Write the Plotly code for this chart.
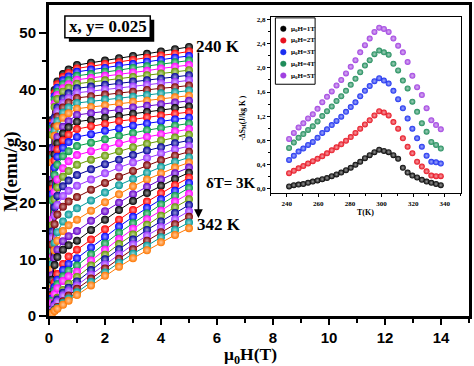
import plotly.graph_objects as go

# ---------------- data ----------------
temperatures = [240, 243, 246, 249, 252, 255, 258, 261, 264, 267, 270, 273,
                276, 279, 282, 285, 288, 291, 294, 297, 300, 303, 306, 309,
                312, 315, 318, 321, 324, 327, 330, 333, 336, 339, 342]
field_H = [0, 0.05, 0.1, 0.2, 0.3, 0.5, 0.7, 1.0, 1.5, 2.0, 2.5, 3.0, 3.5, 4.0, 4.5, 5.0]
M_curves = [
    [0, 16.8, 34.6, 39.9, 41.4, 42.7, 43.5, 44.3, 44.7, 45.1, 45.5, 45.9, 46.3, 46.7, 47.1, 47.5],
    [0, 16.6, 34.1, 39.3, 40.9, 42.2, 42.9, 43.7, 44.1, 44.5, 44.8, 45.2, 45.6, 46.0, 46.3, 46.7],
    [0, 16.4, 33.6, 38.8, 40.3, 41.6, 42.3, 43.1, 43.5, 43.8, 44.2, 44.5, 44.9, 45.2, 45.6, 45.9],
    [0, 16.1, 33.1, 38.2, 39.6, 40.9, 41.6, 42.4, 42.7, 43.1, 43.4, 43.8, 44.1, 44.4, 44.8, 45.1],
    [0, 15.8, 32.5, 37.5, 39.0, 40.2, 40.9, 41.7, 42.0, 42.4, 42.7, 43.0, 43.3, 43.7, 44.0, 44.3],
    [0, 15.6, 32.0, 36.9, 38.3, 39.6, 40.3, 41.0, 41.3, 41.6, 41.9, 42.2, 42.5, 42.8, 43.1, 43.4],
    [0, 15.5, 29.7, 35.0, 36.8, 38.4, 39.3, 40.2, 40.5, 40.8, 41.1, 41.4, 41.6, 41.9, 42.2, 42.5],
    [0, 15.2, 29.2, 34.3, 36.1, 37.6, 38.5, 39.4, 39.7, 40.0, 40.2, 40.5, 40.8, 41.1, 41.3, 41.6],
    [0, 14.8, 28.5, 33.5, 35.2, 36.8, 37.7, 38.5, 38.8, 39.1, 39.3, 39.6, 39.9, 40.2, 40.4, 40.7],
    [0, 14.5, 27.8, 32.7, 34.4, 35.9, 36.8, 37.6, 37.9, 38.2, 38.4, 38.7, 39.0, 39.3, 39.5, 39.8],
    [0, 14.1, 27.1, 31.8, 33.5, 35.0, 35.8, 36.6, 36.9, 37.2, 37.5, 37.8, 38.0, 38.3, 38.6, 38.9],
    [0, 13.5, 24.1, 29.5, 31.6, 33.4, 34.4, 35.5, 35.8, 36.1, 36.4, 36.8, 37.1, 37.4, 37.7, 38.0],
    [0, 13.0, 23.3, 28.5, 30.5, 32.2, 33.3, 34.3, 34.6, 35.0, 35.3, 35.7, 36.0, 36.3, 36.7, 37.0],
    [0, 12.5, 22.4, 27.4, 29.4, 31.0, 32.0, 33.0, 33.5, 33.9, 34.4, 34.7, 35.1, 35.4, 35.7, 36.0],
    [0, 12.0, 21.5, 26.2, 28.1, 29.7, 30.7, 31.6, 32.1, 32.7, 33.1, 33.6, 34.0, 34.4, 34.7, 35.0],
    [0, 11.4, 20.4, 24.9, 26.7, 28.2, 29.1, 30.0, 30.6, 31.2, 31.8, 32.3, 32.8, 33.2, 33.6, 34.0],
    [0, 10.2, 17.0, 21.9, 24.1, 26.1, 27.3, 28.4, 29.1, 29.8, 30.5, 31.1, 31.6, 32.1, 32.6, 33.0],
    [0, 9.6, 16.0, 20.6, 22.7, 24.6, 25.6, 26.7, 27.6, 28.3, 29.1, 29.8, 30.4, 31.0, 31.5, 32.0],
    [0, 9.0, 14.9, 19.2, 21.2, 22.9, 23.9, 24.9, 25.9, 26.8, 27.6, 28.4, 29.2, 29.8, 30.5, 31.0],
    [0, 8.3, 13.8, 17.7, 19.6, 21.2, 22.1, 23.0, 24.1, 25.2, 26.2, 27.1, 27.9, 28.7, 29.4, 30.0],
    [0, 7.6, 12.6, 16.2, 17.9, 19.3, 20.2, 21.0, 22.3, 23.5, 24.6, 25.6, 26.6, 27.5, 28.3, 29.0],
    [0, 5.3, 9.1, 12.9, 14.8, 16.7, 17.9, 19.0, 20.4, 21.8, 23.1, 24.2, 25.3, 26.3, 27.2, 28.0],
    [0, 4.8, 8.2, 11.6, 13.3, 15.0, 16.0, 17.0, 18.6, 20.1, 21.5, 22.9, 24.1, 25.2, 26.2, 27.1],
    [0, 4.2, 7.2, 10.2, 11.7, 13.2, 14.1, 15.0, 16.8, 18.5, 20.0, 21.5, 22.8, 24.1, 25.2, 26.2],
    [0, 3.7, 6.4, 9.0, 10.4, 11.7, 12.5, 13.3, 15.2, 17.0, 18.7, 20.3, 21.7, 23.0, 24.2, 25.3],
    [0, 1.9, 3.5, 5.9, 7.4, 9.2, 10.5, 11.7, 13.5, 15.3, 17.0, 18.7, 20.2, 21.7, 23.1, 24.4],
    [0, 1.6, 3.1, 5.1, 6.4, 8.1, 9.2, 10.2, 12.1, 14.0, 15.8, 17.5, 19.1, 20.6, 22.1, 23.5],
    [0, 1.4, 2.7, 4.5, 5.6, 7.0, 8.0, 8.9, 10.9, 12.8, 14.7, 16.4, 18.1, 19.7, 21.2, 22.6],
    [0, 1.2, 2.3, 3.9, 4.9, 6.2, 7.0, 7.8, 9.8, 11.7, 13.6, 15.4, 17.1, 18.6, 20.2, 21.6],
    [0, 0.6, 1.2, 2.3, 3.2, 4.6, 5.7, 6.9, 8.9, 10.8, 12.7, 14.4, 16.1, 17.7, 19.2, 20.6],
    [0, 0.5, 1.1, 2.1, 2.9, 4.1, 5.0, 6.1, 8.1, 10.0, 11.8, 13.5, 15.2, 16.7, 18.2, 19.6],
    [0, 0.5, 1.0, 1.8, 2.5, 3.6, 4.4, 5.4, 7.3, 9.1, 10.9, 12.6, 14.2, 15.7, 17.1, 18.5],
    [0, 0.3, 0.6, 1.1, 1.6, 2.6, 3.6, 4.8, 6.6, 8.4, 10.1, 11.8, 13.3, 14.8, 16.2, 17.5],
    [0, 0.3, 0.5, 1.0, 1.4, 2.3, 3.1, 4.2, 6.0, 7.7, 9.4, 11.0, 12.4, 13.9, 15.2, 16.5],
    [0, 0.2, 0.4, 0.9, 1.3, 2.0, 2.7, 3.7, 5.4, 7.1, 8.7, 10.2, 11.6, 13.0, 14.3, 15.5],
]

inset_T = [241.5, 244.5, 247.5, 250.5, 253.5, 256.5, 259.5, 262.5, 265.5, 268.5,
           271.5, 274.5, 277.5, 280.5, 283.5, 286.5, 289.5, 292.5, 295.5, 298.5,
           301.5, 304.5, 307.5, 310.5, 313.5, 316.5, 319.5, 322.5, 325.5, 328.5,
           331.5, 334.5, 337.5]
dS_1T = [0.03, 0.05, 0.06, 0.07, 0.09, 0.11, 0.13, 0.15, 0.17, 0.20, 0.23, 0.26, 0.30,
         0.34, 0.39, 0.44, 0.50, 0.55, 0.60, 0.64, 0.62, 0.60, 0.55, 0.49, 0.34, 0.26,
         0.21, 0.18, 0.14, 0.11, 0.09, 0.07, 0.05]
dS_2T = [0.25, 0.29, 0.33, 0.37, 0.41, 0.45, 0.49, 0.53, 0.58, 0.63, 0.68, 0.73, 0.79,
         0.85, 0.92, 0.99, 1.06, 1.13, 1.21, 1.28, 1.26, 1.21, 1.10, 0.99, 0.83, 0.69,
         0.58, 0.44, 0.36, 0.28, 0.21, 0.20, 0.20]
dS_3T = [0.47, 0.54, 0.61, 0.66, 0.72, 0.77, 0.84, 0.92, 0.98, 1.05, 1.12, 1.19, 1.27,
         1.35, 1.43, 1.53, 1.62, 1.70, 1.78, 1.83, 1.79, 1.74, 1.62, 1.48, 1.33, 1.16,
         0.99, 0.83, 0.69, 0.54, 0.44, 0.43, 0.41]
dS_4T = [0.67, 0.76, 0.84, 0.90, 0.97, 1.03, 1.11, 1.20, 1.28, 1.36, 1.45, 1.53, 1.62,
         1.72, 1.82, 1.93, 2.04, 2.13, 2.23, 2.29, 2.26, 2.22, 2.07, 1.96, 1.79, 1.66,
         1.44, 1.27, 1.08, 0.94, 0.77, 0.72, 0.66]
dS_5T = [0.82, 0.92, 1.01, 1.08, 1.16, 1.23, 1.32, 1.43, 1.52, 1.61, 1.71, 1.80, 1.91,
         2.02, 2.13, 2.26, 2.38, 2.49, 2.60, 2.67, 2.65, 2.60, 2.49, 2.37, 2.26, 2.10,
         1.87, 1.68, 1.55, 1.33, 1.13, 1.05, 0.98]
inset_names = ["μ<sub>0</sub>H=1T", "μ<sub>0</sub>H=2T", "μ<sub>0</sub>H=3T",
               "μ<sub>0</sub>H=4T", "μ<sub>0</sub>H=5T"]
inset_yticks = [0.0, 0.4, 0.8, 1.2, 1.6, 2.0, 2.4, 2.8]
inset_yticktext = ["0,0", "0,4", "0,8", "1,2", "1,6", "2,0", "2,4", "2,8"]

# ---------------- styling ----------------
curve_colors = ["#000000", "#FF0000", "#0000FF", "#009944", "#FF00FF", "#669900",
                "#000099", "#9933FF", "#800000", "#009999", "#FF7700", "#6600CC"]
inset_colors = ["#000000", "#E8101E", "#1A2EF0", "#1E8C5A", "#A040E0"]

SERIF = "Liberation Serif"
SANS = "Liberation Sans"

W, HT = 474, 366
ML, MR, MT, MB = 49, 2, 2, 50
PW, PH = W - ML - MR, HT - MT - MB


def px_x(px):
    return (px - ML) / PW


def px_y(py):
    return (HT - MB - py) / PH


def lighten(hexc, f):
    h = hexc.lstrip("#")
    r, g, b = int(h[0:2], 16), int(h[2:4], 16), int(h[4:6], 16)
    r = int(r + (255 - r) * f)
    g = int(g + (255 - g) * f)
    b = int(b + (255 - b) * f)
    return "#%02x%02x%02x" % (r, g, b)


fig = go.Figure()

for i, (temp, M) in enumerate(zip(temperatures, M_curves)):
    c = curve_colors[i % len(curve_colors)]
    fig.add_trace(go.Scatter(
        x=field_H, y=M, mode="lines+markers", name=f"{temp} K",
        line=dict(color=c, width=1),
        marker=dict(size=8, color=c, line=dict(width=0),
                    gradient=dict(type="radial", color=lighten(c, 0.6))),
        showlegend=False, xaxis="x", yaxis="y", cliponaxis=True))

for name, vals, c in zip(inset_names, [dS_1T, dS_2T, dS_3T, dS_4T, dS_5T], inset_colors):
    fig.add_trace(go.Scatter(
        x=inset_T, y=vals, mode="markers", name=name,
        marker=dict(size=6, color=c, line=dict(width=0),
                    gradient=dict(type="radial", color=lighten(c, 0.6))),
        showlegend=False, xaxis="x2", yaxis="y2"))

axis_common = dict(showgrid=False, zeroline=False, showline=True, linecolor="black",
                   ticks="outside", tickcolor="black")

fig.update_layout(
    width=W, height=HT, autosize=False,
    margin=dict(l=ML, r=MR, t=MT, b=MB, pad=0),
    paper_bgcolor="white", plot_bgcolor="white",
    xaxis=dict(**axis_common, domain=[0, 1], anchor="y", range=[0, 15],
               tick0=0, dtick=2, ticklen=6, tickwidth=2, linewidth=3, mirror=True,
               minor=dict(tick0=0, dtick=1, ticks="outside", ticklen=4, tickwidth=2,
                          tickcolor="black"),
               tickfont=dict(family=SANS, size=15, color="black", weight="bold")),
    yaxis=dict(**axis_common, domain=[0, 1], anchor="x", range=[0, 54.9],
               tick0=0, dtick=10, ticklen=7, tickwidth=2, linewidth=3, mirror=True,
               minor=dict(tick0=0, dtick=5, ticks="outside", ticklen=4, tickwidth=2,
                          tickcolor="black"),
               tickfont=dict(family=SANS, size=15, color="black", weight="bold")),
    xaxis2=dict(**axis_common, domain=[px_x(272.5), px_x(463.5)], anchor="y2",
                range=[230, 350], tick0=240, dtick=20, ticklen=3, tickwidth=1,
                linewidth=1, mirror=True,
                minor=dict(tick0=240, dtick=10, ticks="outside", ticklen=2,
                           tickwidth=1, tickcolor="black"),
                tickfont=dict(family=SERIF, size=7, color="black", weight="bold")),
    yaxis2=dict(**axis_common, domain=[px_y(192), px_y(14)], anchor="x2",
                range=[-0.083, 2.85], tickvals=inset_yticks, ticktext=inset_yticktext,
                ticklen=3, tickwidth=1, linewidth=1, mirror=True,
                minor=dict(tick0=0, dtick=0.2, ticks="outside", ticklen=2,
                           tickwidth=1, tickcolor="black"),
                tickfont=dict(family=SERIF, size=7, color="black", weight="bold")),
)

shapes = []
annotations = []


def ann(text, x, y, size, xanchor="center", angle=0, family=SERIF):
    annotations.append(dict(
        text=text, x=px_x(x), y=px_y(y), xref="paper", yref="paper",
        showarrow=False, xanchor=xanchor, yanchor="middle", textangle=angle,
        font=dict(family=family, size=size, color="black", weight="bold")))


def rect(x0, y0, x1, y1, fill, lw, lc="black"):
    shapes.append(dict(type="rect", xref="paper", yref="paper",
                       x0=px_x(x0), x1=px_x(x1), y0=px_y(y1), y1=px_y(y0),
                       fillcolor=fill, line=dict(color=lc, width=lw), layer="above"))


# axis titles
ann("M(emu/g)", 11, 170, 19, angle=-90)
ann("μ<sub>0</sub>H(T)", 252, 356, 17.5)

# composition box with shadow
rect(69, 17, 155, 39, "black", 0)
rect(65, 13, 151, 35, "white", 1.5)
ann("x, y= 0.025", 108, 24, 17)

# temperature annotations and arrow
ann("240 K", 195, 44, 17, xanchor="left")
ann("342 K", 196, 224, 17, xanchor="left")
ann("δT= 3K", 205, 182, 15, xanchor="left")
annotations.append(dict(text="", x=px_x(199.5), y=px_y(217), xref="paper", yref="paper",
                        showarrow=True, ax=0, ay=-167, axref="pixel", ayref="pixel",
                        arrowhead=2, arrowsize=1.1, arrowwidth=1.6, arrowcolor="black",
                        standoff=0))

# inset titles
ann("T(K)", 368, 212, 8)
ann("-ΔS<sub>M</sub>(J/kg K )", 244, 116, 7.5, angle=-90)

# inset legend
rect(277, 15, 317, 82, "white", 1)
for k, (name, c) in enumerate(zip(inset_names, inset_colors)):
    yc = 26 + 11.8 * k
    r = 2.8
    shapes.append(dict(type="circle", xref="paper", yref="paper",
                       x0=px_x(285 - r), x1=px_x(285 + r),
                       y0=px_y(yc + r), y1=px_y(yc - r),
                       fillcolor=c, line=dict(color=c, width=0.5), layer="above"))
    ann(name, 291, yc, 7, xanchor="left")

fig.update_layout(shapes=shapes, annotations=annotations)

fig.write_html("out.html",
               config={"displayModeBar": False, "staticPlot": True},
               post_script="document.body.style.margin='0';"
                           "document.body.style.overflow='hidden';")
